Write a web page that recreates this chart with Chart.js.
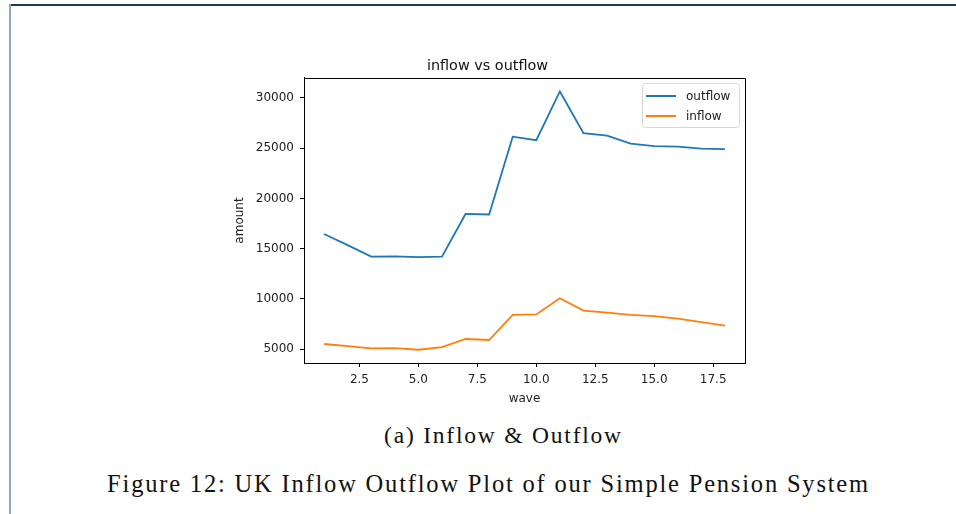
<!DOCTYPE html>
<html>
<head>
<meta charset="utf-8">
<script src="https://cdn.jsdelivr.net/npm/chart.js@4.4.1/dist/chart.umd.min.js"></script>
<style>
    html, body { margin: 0; padding: 0; background: #fff; }
    body { width: 956px; height: 514px; position: relative; overflow: hidden; }
    .rule-top { position: absolute; left: 9px; top: 4px; width: 947px; height: 2px; background: #1d3a5c; }
    .rule-left { position: absolute; left: 9px; top: 4px; width: 2px; height: 510px; background: #8fa6c4; }
    #wrap { position: absolute; left: 230px; top: 50px; width: 589px; height: 370px; }
    .caption { position: absolute; color: #111; white-space: nowrap;
        font-family: "Liberation Serif", "DejaVu Serif", serif; }
    #sub { font-size: 23.5px; line-height: 23px; }
    #fig { font-size: 24.5px; line-height: 24px; }
</style>
</head>
<body>
<div class="rule-top"></div>
<div class="rule-left"></div>
<div id="wrap"><canvas id="chart"></canvas></div>
<div class="caption" id="sub">(a) Inflow &amp; Outflow</div>
<div class="caption" id="fig">Figure 12: UK Inflow Outflow Plot of our Simple Pension System</div>
<script>
const waves = [1, 2, 3, 4, 5, 6, 7, 8, 9, 10, 11, 12, 13, 14, 15, 16, 17, 18];
const outflow = [16450, 15350, 14200, 14220, 14150, 14200, 18450, 18400, 26150, 25800, 30650, 26500, 26250, 25450, 25200, 25150, 24950, 24900];
const inflow = [5500, 5280, 5070, 5100, 4930, 5200, 6000, 5900, 8400, 8450, 10050, 8830, 8630, 8400, 8280, 8030, 7670, 7330];
const xTicks = [2.5, 5.0, 7.5, 10.0, 12.5, 15.0, 17.5];
const yTicks = [5000, 10000, 15000, 20000, 25000, 30000];

const FONT = '"DejaVu Sans", Roboto, sans-serif';
const BLUE = '#1f77b4';
const ORANGE = '#ff7f0e';

// stretch the LaTeX-like captions to the width they have in the figure
function fitCaption(id, centerX, top, width) {
    const el = document.getElementById(id);
    const n = el.textContent.length;
    const natural = el.getBoundingClientRect().width;
    el.style.letterSpacing = ((width - natural) / (n - 1)) + 'px';
    const w = el.getBoundingClientRect().width;
    el.style.left = (centerX - w / 2) + 'px';
    el.style.top = top + 'px';
}
fitCaption('sub', 503.5, 424, 237);
fitCaption('fig', 488.5, 472, 761);

// top + right spines, like matplotlib
const frame = {
    id: 'frame',
    afterDatasetsDraw(chart) {
        const { ctx, chartArea: a } = chart;
        ctx.save();
        ctx.strokeStyle = '#000';
        ctx.lineWidth = 1;
        ctx.beginPath();
        ctx.moveTo(a.left, a.top + 0.5);
        ctx.lineTo(a.right + 0.5, a.top + 0.5);
        ctx.lineTo(a.right + 0.5, a.bottom);
        ctx.stroke();
        ctx.restore();
    },
};

// legend inside the axes, upper right
const innerLegend = {
    id: 'innerLegend',
    afterDraw(chart) {
        const { ctx, chartArea: a } = chart;
        const w = 97, h = 44;
        const x = a.right - 6 - w, y = a.top + 5;
        ctx.save();
        ctx.fillStyle = 'rgba(255,255,255,0.8)';
        ctx.strokeStyle = '#d6d6d6';
        ctx.lineWidth = 1;
        ctx.beginPath();
        ctx.roundRect(x + 0.5, y + 0.5, w, h, 3);
        ctx.fill();
        ctx.stroke();
        ctx.font = '12px ' + FONT;
        ctx.textBaseline = 'middle';
        chart.data.datasets.forEach((ds, i) => {
            const ly = y + 13 + i * 20;
            ctx.strokeStyle = ds.borderColor;
            ctx.lineWidth = 2;
            ctx.beginPath();
            ctx.moveTo(x + 4, ly);
            ctx.lineTo(x + 34, ly);
            ctx.stroke();
            ctx.fillStyle = '#222';
            ctx.fillText(ds.label, x + 44, ly + 1);
        });
        ctx.restore();
    },
};

new Chart(document.getElementById('chart'), {
    type: 'line',
    data: {
        datasets: [
            {
                label: 'outflow',
                data: waves.map((w, i) => ({ x: w, y: outflow[i] })),
                borderColor: BLUE,
                borderWidth: 1.8,
                pointRadius: 0,
                tension: 0,
            },
            {
                label: 'inflow',
                data: waves.map((w, i) => ({ x: w, y: inflow[i] })),
                borderColor: ORANGE,
                borderWidth: 1.8,
                pointRadius: 0,
                tension: 0,
            },
        ],
    },
    options: {
        responsive: true,
        maintainAspectRatio: false,
        animation: false,
        layout: { padding: { top: 0, right: 74, bottom: 0, left: 0 } },
        plugins: {
            legend: { display: false },
            tooltip: { enabled: false },
            title: {
                display: true,
                text: 'inflow vs outflow',
                color: '#111',
                font: { family: FONT, size: 14.4, weight: 'normal' },
                padding: { top: 7.5, bottom: 3.2 },
            },
        },
        scales: {
            x: {
                type: 'linear',
                min: 0.15,
                max: 18.85,
                border: { display: true, color: '#000', width: 1 },
                grid: { drawOnChartArea: false, drawTicks: true, tickLength: 4, color: '#000' },
                afterBuildTicks: (scale) => {
                    scale.ticks = xTicks.map((value) => ({ value }));
                },
                afterFit: (scale) => { scale.height = 57; },
                ticks: {
                    color: '#222',
                    padding: 6,
                    maxRotation: 0,
                    font: { family: FONT, size: 12 },
                    callback: (value) => Number(value).toFixed(1),
                },
                title: {
                    display: true,
                    text: 'wave',
                    color: '#222',
                    font: { family: FONT, size: 12 },
                    padding: { top: 0, bottom: 13.5 },
                },
            },
            y: {
                min: 3610,
                max: 31990,
                border: { display: true, color: '#000', width: 1 },
                grid: { drawOnChartArea: false, drawTicks: true, tickLength: 4, color: '#000' },
                afterBuildTicks: (scale) => {
                    scale.ticks = yTicks.map((value) => ({ value }));
                },
                afterFit: (scale) => { scale.width = 74; },
                ticks: {
                    color: '#222',
                    padding: 6,
                    font: { family: FONT, size: 12 },
                    callback: (value) => String(value),
                },
                title: {
                    display: true,
                    text: 'amount',
                    color: '#222',
                    font: { family: FONT, size: 12 },
                    padding: { top: 2.8, bottom: 0 },
                },
            },
        },
    },
    plugins: [frame, innerLegend],
});
</script>
</body>
</html>
